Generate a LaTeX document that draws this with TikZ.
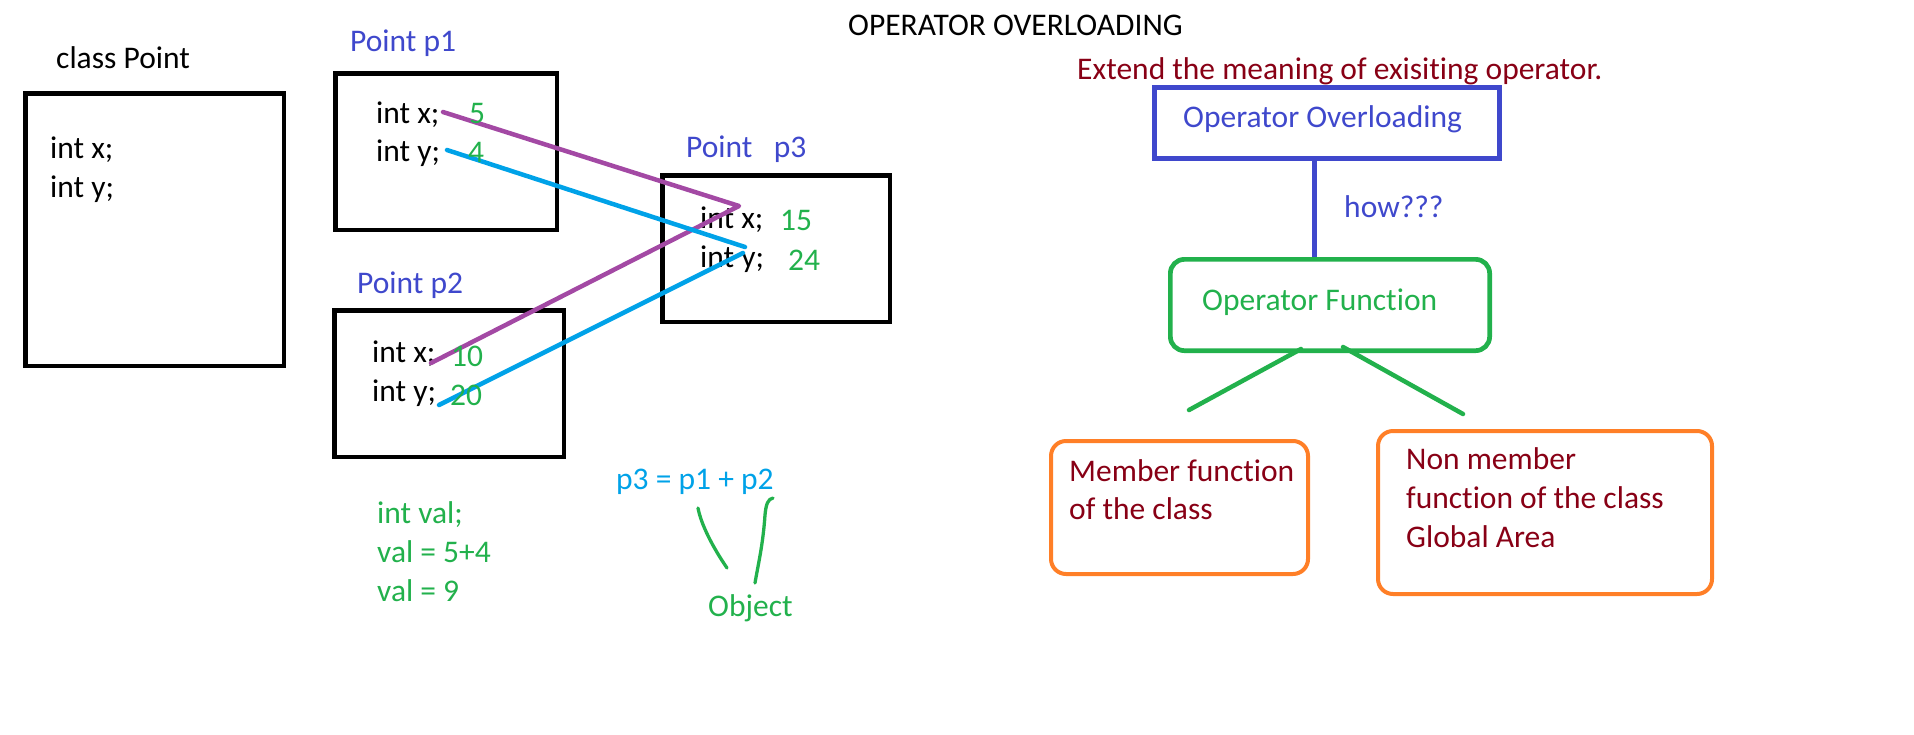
\documentclass[tikz,border=0pt]{standalone}
\usepackage{fontspec}
\setmainfont{Carlito}[Ligatures=NoCommon]

\definecolor{lilac}{HTML}{A349A4}
\definecolor{sky}{HTML}{00A2E8}
\definecolor{leaf}{HTML}{22B14C}
\definecolor{tangerine}{HTML}{FF7F27}
\definecolor{indigo}{HTML}{3F48CC}
\definecolor{wine}{HTML}{880015}

\begin{document}
\begin{tikzpicture}[x=1pt, y=-1pt,
    txt/.style={anchor=base west, inner sep=0pt, font=\fontsize{31.5}{39}\selectfont},
    objbox/.style={draw, line width=4.5pt, inner sep=0pt},
    ovlbox/.style={draw=indigo, line width=5pt, inner sep=0pt},
    fnbox/.style={draw=leaf, line width=4.7pt, rounded corners=14pt, inner sep=0pt},
    kindbox/.style={draw=tangerine, line width=4pt, rounded corners=15pt, inner sep=0pt},
    wire/.style={line width=4.5pt, line cap=round},
    scribble/.style={leaf, line width=3.3pt, line cap=round}]

\useasboundingbox (0,0) rectangle (1914,734);

% Left: the class
\node[txt] (clsname) at (56,68) {class Point};
\node[objbox, minimum width=258.5pt, minimum height=272.5pt] (cls) at (154.5,229.5) {};
\node[txt] (clsx) at (50,158) {int x;};
\node[txt] (clsy) at (50,197) {int y;};

% Middle: the three objects
\node[txt, indigo] (p1name) at (350,51) {Point p1};
\node[objbox, minimum width=221.5pt, minimum height=156.5pt] (p1) at (446,151.5) {};
\node[txt] (p1x) at (376,123) {int x;};
\node[txt] (p1y) at (376,161) {int y;};

\node[txt, indigo] (p2name) at (357,293) {Point p2};
\node[objbox, minimum width=229.5pt, minimum height=146.5pt] (p2) at (449,383.5) {};
\node[txt] (p2x) at (372,362) {int x;};
\node[txt] (p2y) at (372,401) {int y;};

\node[txt, indigo] (p3name) at (686,157) {Point\ \ \ p3};
\node[objbox, minimum width=227.5pt, minimum height=146.5pt] (p3) at (776,248.5) {};
\node[txt] (p3x) at (700,228) {int x;};
\node[txt] (p3y) at (700,267) {int y;};

% Adding member by member
\coordinate (xfrom1) at (443,112);
\coordinate (xfrom2) at (431,363);
\coordinate (xto) at (739,206);
\coordinate (yfrom1) at (447,150);
\coordinate (yfrom2) at (439,405);
\coordinate (yto1) at (745,247);
\coordinate (yto2) at (743,253);
\draw[wire, lilac, line join=round] (xfrom1) -- (xto) -- (xfrom2);
\draw[wire, sky] (yfrom1) -- (yto1);
\draw[wire, sky] (yfrom2) -- (yto2);

% Values
\node[txt, leaf] (p1xval) at (469,123) {5};
\node[txt, leaf] (p1yval) at (468,162) {4};
\node[txt, leaf] (p2xval) at (451,366) {10};
\node[txt, leaf] (p2yval) at (450,405) {20};
\node[txt, leaf] (p3xval) at (780,230) {15};
\node[txt, leaf] (p3yval) at (788,270) {24};

% Below: plain int and objects
\node[txt, leaf] (intval) at (377,523) {int val;};
\node[txt, leaf] (valsum) at (377,562) {val = 5+4};
\node[txt, leaf] (valres) at (377,601) {val = 9};
\node[txt, sky] (expr) at (616,489) {p3 = p1 + p2};
\node[txt, leaf] (object) at (708,616) {Object};
\draw[scribble] (698,508) .. controls (701,524) and (712,546) .. (727,568);
\draw[scribble] (773,498) .. controls (768,499) and (766,504) .. (765,515)
    .. controls (763,545) and (758,565) .. (755,583);

% Right: operator overloading
\node[txt] (title) at (848,35) {OPERATOR OVERLOADING};
\node[txt, wine] (extend) at (1077,79) {Extend the meaning of exisiting operator.};

\node[ovlbox, minimum width=345pt, minimum height=71pt] (ovl) at (1327,123) {};
\node[txt, indigo] (ovltext) at (1183,127) {Operator Overloading};
\node[fnbox, minimum width=319.3pt, minimum height=91.3pt] (opfn) at (1330,305) {};
\node[txt, leaf] (opfntext) at (1202,310) {Operator Function};

\coordinate (howx) at (1314,0);
\draw[indigo, line width=5pt] (ovl.south -| howx) -- (opfn.north -| howx);
\node[txt, indigo] (how) at (1344,217) {how???};

% Two kinds
\coordinate (memtop) at (1301,349);
\coordinate (memend) at (1189,410);
\coordinate (nontop) at (1343,347);
\coordinate (nonend) at (1463,414);
\draw[leaf, line width=4.5pt, line cap=round] (memtop) -- (memend);
\draw[leaf, line width=4.5pt, line cap=round] (nontop) -- (nonend);

\node[kindbox, minimum width=257pt, minimum height=133pt] (mem) at (1179.5,507.5) {};
\node[txt, wine] (mem1) at (1069,481) {Member function};
\node[txt, wine] (mem2) at (1069,519) {of the class};

\node[kindbox, minimum width=334pt, minimum height=163pt] (nonmem) at (1545,512.5) {};
\node[txt, wine] (non1) at (1406,469) {Non member};
\node[txt, wine] (non2) at (1406,508) {function of the class};
\node[txt, wine] (non3) at (1406,547) {Global Area};

\end{tikzpicture}
\end{document}
